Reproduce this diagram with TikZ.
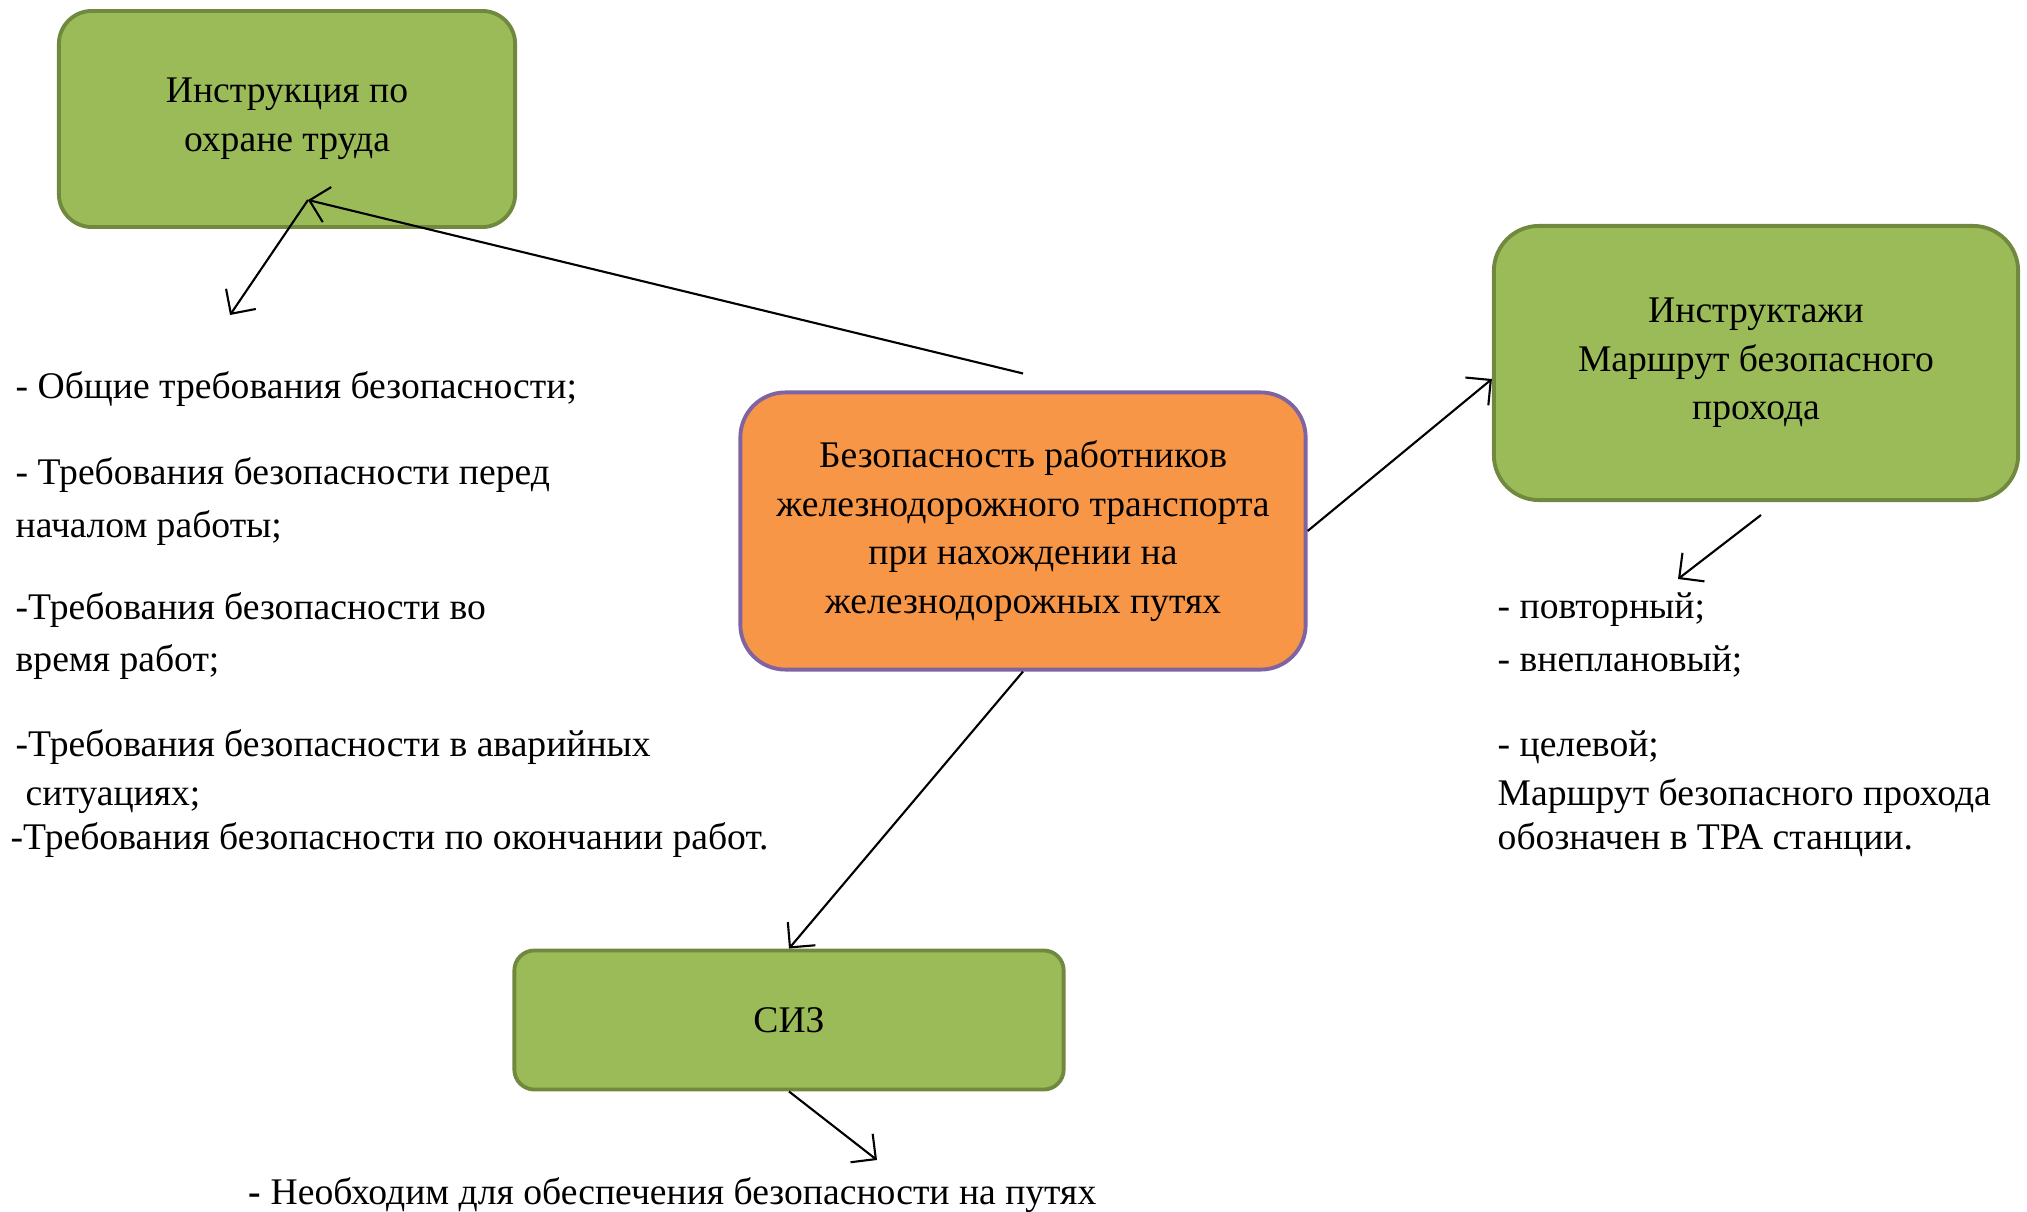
\documentclass[tikz,border=0pt]{standalone}
\usepackage{fontspec}
\setmainfont{Liberation Serif}
\usetikzlibrary{arrows.meta,positioning}

\definecolor{boxgreen}{HTML}{9BBB59}
\definecolor{boxgreenline}{HTML}{71893F}
\definecolor{boxorange}{HTML}{F79646}
\definecolor{boxpurple}{HTML}{8064A2}

\begin{document}
\begin{tikzpicture}[x=0.01cm,y=-0.01cm]
        \tikzset{every node/.style={font=\fontsize{10.7}{13.8}\selectfont},
            greenbox/.style={draw=boxgreenline, fill=boxgreen, line width=1.1pt, rounded corners=0.33cm, align=center, inner sep=0pt},
            mainbox/.style={draw=boxpurple, fill=boxorange, line width=1.1pt, rounded corners=0.45cm, align=center, inner sep=0pt},
            item/.style={anchor=base west, inner sep=0pt},
            link/.style={line width=0.6pt, -{Straight Barb[length=1.8mm,width=3.6mm]}}}

        \useasboundingbox (0,0) rectangle (2027,1212);

        % boxes
        \node[greenbox, minimum width=4.56cm, minimum height=2.16cm] (instr) at (287,119) {Инструкция по\\охране труда};
        \node[mainbox, minimum width=5.65cm, minimum height=2.77cm] (main) at (1023,531) {Безопасность работников\\железнодорожного транспорта\\при нахождении на\\железнодорожных путях};
        \node[greenbox, minimum width=5.24cm, minimum height=2.74cm, rounded corners=0.45cm] (brief) at (1756,363) {Инструктажи\\Маршрут безопасного\\прохода};
        \node[greenbox, minimum width=5.49cm, minimum height=1.39cm, rounded corners=0.2cm] (siz) at (789,1020) {СИЗ};

        % free ends
        \coordinate (instrHit) at (308,200);
        \coordinate (instrList) at (230,315);
        \coordinate (briefOut) at (1761,515);
        \coordinate (briefList) at (1678,579);
        \coordinate (sizList) at (877,1160);

        % connectors
        \draw[link] ([yshift=0.17cm]main.north) -- (instrHit);
        \draw[link] (instrHit) -- (instrList);
        \draw[link] (main.east) -- ([yshift=-0.16cm]brief.west);
        \draw[link] (main.south) -- (siz.north);
        \draw[link] (briefOut) -- (briefList);
        \draw[link] (siz.south) -- (sizList);

        % left list
        \node[item] (req1) at (15,398) {- Общие требования безопасности;};
        \node[item] (req2) at (15,484) {- Требования безопасности перед};
        \node[item] (req2b) at (15,537) {начaлом работы;};
        \node[item] (req3) at (15,619) {-Требования безопасности во};
        \node[item] (req3b) at (15,671) {время работ;};
        \node[item] (req4) at (15,756) {-Требования безопасности в аварийных};
        \node[item] (req4b) at (25,805) {ситуациях;};
        \node[item] (req5) at (10,849) {-Требования безопасности по окончании работ.};

        % right list
        \node[item] (kind1) at (1497,618) {- повторный;};
        \node[item] (kind2) at (1497,671) {- внеплановый;};
        \node[item] (kind3) at (1497,756) {- целевой;};
        \node[item] (route1) at (1497,805) {Маршрут безопасного прохода};
        \node[item] (route2) at (1497,849) {обозначен в ТРА станции.};

        % bottom note
        \node[item] (sizNote) at (248,1204) {\textbf{-} Необходим для обеспечения безопасности на путях};
\end{tikzpicture}
\end{document}
